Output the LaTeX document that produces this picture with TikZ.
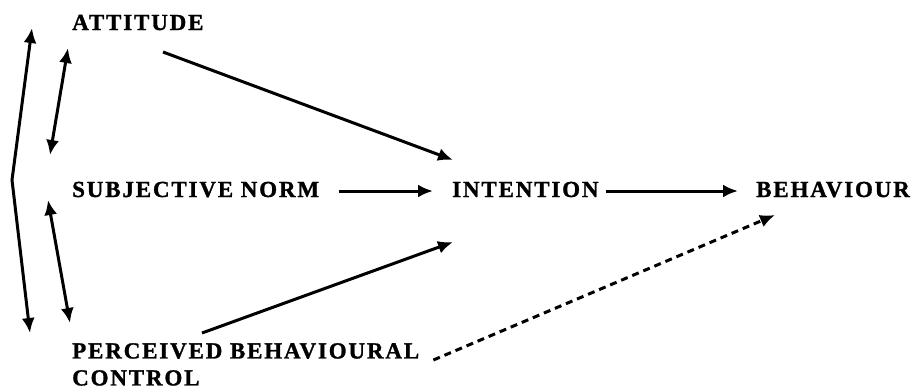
\documentclass[tikz,border=0pt]{standalone}
\usepackage{fontspec}
\newfontfamily\lblfont[LetterSpace=8,BoldFeatures={FakeBold=1.2}]{Liberation Serif}
\usetikzlibrary{arrows.meta}
\begin{document}
\begin{tikzpicture}[x=1pt,y=-1pt]
    \tikzstyle{every node}+=[inner sep=0pt, font=\lblfont\bfseries\fontsize{23}{27}\selectfont]
    \tikzstyle{arr}=[line width=3pt, -{Latex[length=15pt,width=13pt]}]
    \tikzstyle{dbl}=[line width=3pt, {Latex[length=15pt,width=13pt]}-{Latex[length=15pt,width=13pt]}]
    \useasboundingbox (0,0) rectangle (916,391);
    \node [anchor=base west] (att) at (72,30) {ATTITUDE};
    \node [anchor=base west] (sn) at (72,197) {SUBJECTIVE NORM};
    \node [anchor=base west] (int) at (452,197) {INTENTION};
    \node [anchor=base west] (beh) at (756,197) {BEHAVIOUR};
    \node [anchor=north west, align=left] (pbc) at (72,343) {PERCEIVED BEHAVIOURAL\\CONTROL};
    % free ends of the correlation arrows
    \coordinate (o1) at (32,28);
    \coordinate (o2) at (12,180);
    \coordinate (o3) at (30,333);
    \coordinate (u1) at (68,48);
    \coordinate (u2) at (50,155);
    \coordinate (l1) at (48,200);
    \coordinate (l2) at (70,323);
    \draw [dbl] (o1) -- (o2) -- (o3);
    \draw [dbl] (u1) -- (u2);
    \draw [dbl] (l1) -- (l2);
    \draw [arr] ([xshift=91pt,yshift=-22pt]att.base west) -- ([xshift=1pt,yshift=37pt]int.base west);
    \draw [arr] ([xshift=20pt,yshift=6pt]sn.base east) -- ([xshift=-19pt,yshift=6pt]int.base west);
    \draw [arr] ([xshift=130pt,yshift=10pt]pbc.north west) -- ([xshift=1pt,yshift=-45pt]int.base west);
    \draw [arr] ([xshift=7pt,yshift=6pt]int.base east) -- ([xshift=-18pt,yshift=6pt]beh.base west);
    \draw [arr, dash pattern=on 7pt off 5pt] ([xshift=14pt,yshift=-17pt]pbc.north east) -- ([xshift=19pt,yshift=-18pt]beh.base west);
\end{tikzpicture}
\end{document}
